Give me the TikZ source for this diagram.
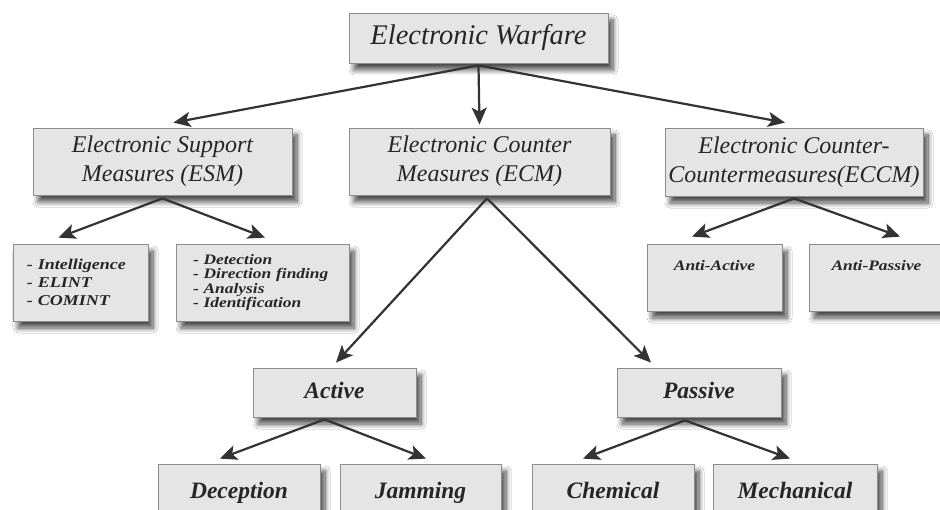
\documentclass[tikz,border=0pt]{standalone}
\usepackage{fontspec}
\setmainfont{Liberation Serif}
\newfontfamily\widebi[FakeStretch=1.2]{Liberation Serif}
\usetikzlibrary{arrows.meta,shadows.blur}
\begin{document}
\begin{tikzpicture}[x=1pt,y=-1pt,
  box/.style={draw=black!45, line width=0.8pt, fill=black!10, inner sep=0pt,
    text=black!85,
    blur shadow={shadow xshift=5pt, shadow yshift=-7pt, shadow blur radius=5pt, shadow blur steps=12, shadow opacity=70}},
  topfont/.style={font=\fontsize{24}{29}\selectfont\itshape, align=center},
  leaffont/.style={font=\fontsize{23.5}{28}\selectfont\bfseries\itshape, text height=17pt, text depth=5pt},
  listfont/.style={font=\widebi\fontsize{15}{18}\selectfont\bfseries\itshape, align=left},
  arr/.style={draw=black!80, line width=2.2pt, -{Stealth[length=17pt,width=15pt,inset=4pt]}}
]
\fill[white] (0,0) rectangle (940,510);
\useasboundingbox (0,0) rectangle (940,510);

% level 0
\node[box, minimum width=259pt, minimum height=50pt,
      font=\fontsize{28.5}{34}\selectfont\itshape] (ew) at (478.5,38) {Electronic Warfare};

% level 1
\node[box, topfont, minimum width=259pt, minimum height=67pt] (esm) at (162.5,161.5)
  {Electronic Support\\Measures (ESM)};
\node[box, topfont, minimum width=261pt, minimum height=67pt] (ecm) at (479.5,161.5)
  {Electronic Counter\\Measures (ECM)};
\node[box, topfont, minimum width=258pt, minimum height=68pt] (eccm) at (794,162)
  {Electronic Counter-\\Countermeasures(ECCM)};

% level 2
\node[box, listfont, minimum height=77pt, text width=107pt, inner xsep=14pt] (intel) at (80.5,282.5)
  {- Intelligence\\- ELINT\\- COMINT};
\node[box, listfont, font=\widebi\fontsize{14.5}{14.5}\selectfont\bfseries\itshape,
      minimum height=77pt, text width=139pt, inner xsep=17pt] (detect) at (262.5,282.5)
  {- Detection\\- Direction finding\\- Analysis\\- Identification};
\node[box, font=\widebi\fontsize{14.5}{16}\selectfont\bfseries\itshape,
      minimum width=135pt, minimum height=67pt, text height=27pt, text depth=40pt] (antia) at (714.5,277.5)
  {Anti-Active};
\node[box, font=\widebi\fontsize{14.5}{16}\selectfont\bfseries\itshape,
      minimum width=135pt, minimum height=67pt, text height=27pt, text depth=40pt] (antip) at (876.5,277.5)
  {Anti-Passive};

% level 3
\node[box, leaffont, minimum width=163pt, minimum height=49pt] (active) at (334.5,392.5) {Active};
\node[box, leaffont, minimum width=164pt, minimum height=49pt] (passive) at (699,392.5) {Passive};

% level 4
\node[box, leaffont, minimum width=162pt, minimum height=56pt] (decep) at (239,492) {Deception};
\node[box, leaffont, minimum width=161pt, minimum height=56pt] (jam) at (420.5,492) {Jamming};
\node[box, leaffont, minimum width=162pt, minimum height=56pt] (chem) at (613,492) {Chemical};
\node[box, leaffont, minimum width=164pt, minimum height=56pt] (mech) at (795,492) {Mechanical};

% connectors
\draw[arr] ([yshift=-2pt]ew.south) -- ([xshift=11pt,yshift=5pt]esm.north);
\draw[arr] ([yshift=-2pt]ew.south) -- ([yshift=3pt]ecm.north);
\draw[arr] ([yshift=-2pt]ew.south) -- ([xshift=-9pt,yshift=5pt]eccm.north);

\draw[arr] ([yshift=-3pt]esm.south) -- ([xshift=-22pt,yshift=6pt]intel.north);
\draw[arr] ([yshift=-3pt]esm.south) -- ([xshift=2.5pt,yshift=6pt]detect.north);

\draw[arr] ([xshift=7.5pt,yshift=-3pt]ecm.south) -- ([xshift=1.5pt,yshift=5pt]active.north);
\draw[arr] ([xshift=7.5pt,yshift=-3pt]ecm.south) -- ([xshift=-48pt,yshift=5pt]passive.north);

\draw[arr] ([yshift=-2pt]eccm.south) -- ([xshift=-22.5pt,yshift=7pt]antia.north);
\draw[arr] ([yshift=-2pt]eccm.south) -- ([xshift=23.5pt,yshift=7pt]antip.north);

\draw[arr] ([xshift=-10pt,yshift=-2pt]active.south) -- ([xshift=-19pt,yshift=5pt]decep.north);
\draw[arr] ([xshift=-10pt,yshift=-2pt]active.south) -- ([xshift=5.5pt,yshift=5pt]jam.north);

\draw[arr] ([xshift=-14pt,yshift=-3pt]passive.south) -- ([xshift=-30pt,yshift=5pt]chem.north);
\draw[arr] ([xshift=-14pt,yshift=-3pt]passive.south) -- ([xshift=-5pt,yshift=5pt]mech.north);
\end{tikzpicture}
\end{document}
